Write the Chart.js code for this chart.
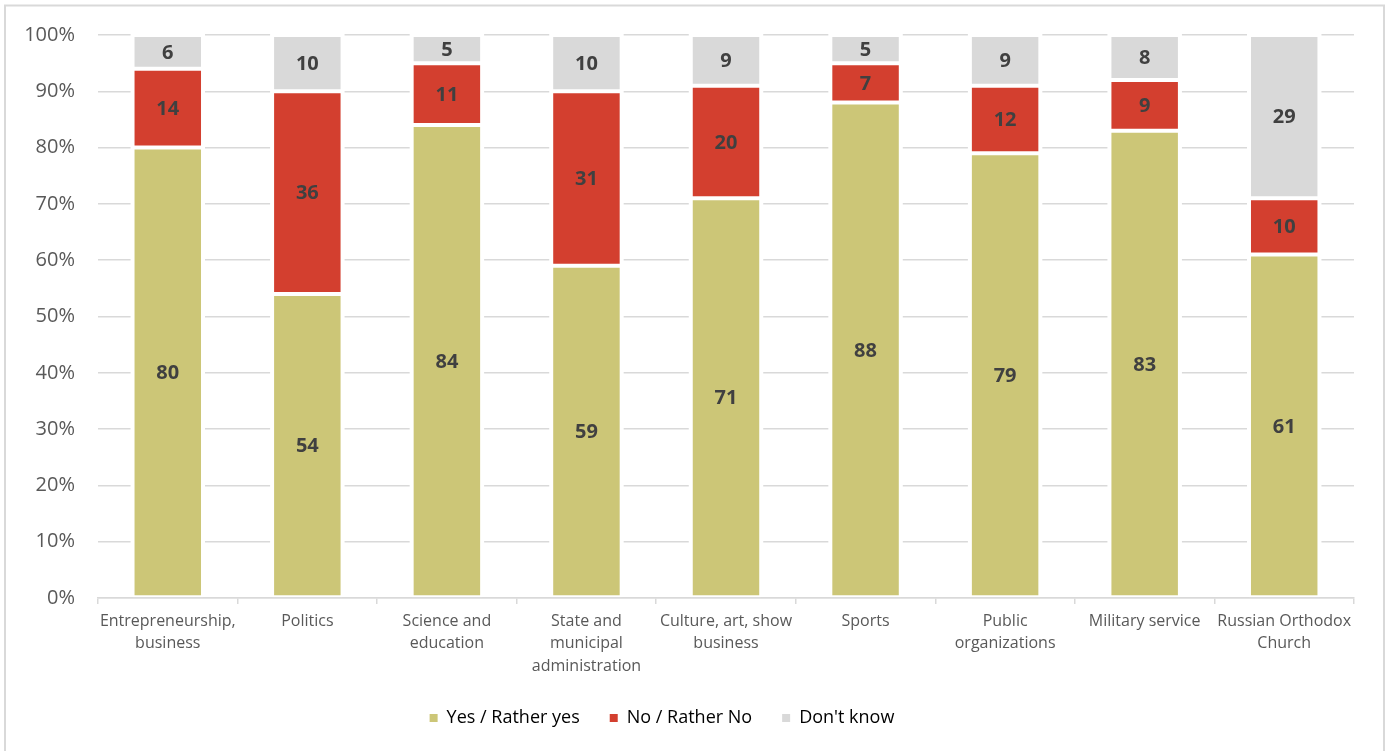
<!DOCTYPE html>
<html>
<head>
<meta charset="utf-8">
<script src="https://cdn.jsdelivr.net/npm/chart.js@4.4.1/dist/chart.umd.min.js"></script>
<style>
  html, body { margin: 0; padding: 0; background: #ffffff; }
  #wrap { position: relative; width: 1389px; height: 751px; }
  canvas { display: block; }
</style>
</head>
<body>
<div id="wrap"><canvas id="c" width="1389" height="751"></canvas></div>
<script>
const categories = [
  ["Entrepreneurship,", "business"],
  "Politics",
  ["Science and", "education"],
  ["State and", "municipal", "administration"],
  ["Culture, art, show", "business"],
  "Sports",
  ["Public", "organizations"],
  "Military service",
  ["Russian Orthodox", "Church"]
];
const yesValues = [80, 54, 84, 59, 71, 88, 79, 83, 61];
const noValues = [14, 36, 11, 31, 20, 7, 12, 9, 10];
const dontKnowValues = [6, 10, 5, 10, 9, 5, 9, 8, 29];
const seriesNames = ["Yes / Rather yes", "No / Rather No", "Don't know"];
const seriesColors = ["#CCC677", "#D33F2F", "#D9D9D9"];

const FONT = "'Open Sans', 'DejaVu Sans', sans-serif";
const TEXT = "#595959";

const frame = {
  id: 'frame',
  beforeDraw(chart) {
    const ctx = chart.ctx;
    ctx.save();
    ctx.fillStyle = '#ffffff';
    ctx.fillRect(0, 0, chart.width, chart.height);
    ctx.strokeStyle = '#D9D9D9';
    ctx.lineWidth = 2;
    ctx.beginPath();
    ctx.moveTo(5, chart.height + 2);
    ctx.lineTo(5, 5.5);
    ctx.lineTo(1384, 5.5);
    ctx.lineTo(1384, chart.height + 2);
    ctx.stroke();
    ctx.restore();
  }
};

// shift the legend a little left, as in the reference
const legendShift = {
  id: 'legendShift',
  afterLayout(chart) {
    const lg = chart.legend;
    if (lg) { lg.left -= 15; lg.right -= 15; }
  }
};

// white halo around each bar stack, so gridlines stop short of the bars
const halo = {
  id: 'halo',
  beforeDatasetsDraw(chart) {
    const ctx = chart.ctx;
    const metas = chart.getSortedVisibleDatasetMetas();
    if (!metas.length) return;
    ctx.save();
    ctx.fillStyle = '#ffffff';
    const n = metas[0].data.length;
    for (let i = 0; i < n; i++) {
      let top = Infinity, bottom = -Infinity, left = 0, right = 0;
      metas.forEach(m => {
        const el = m.data[i];
        const p = el.getProps(['x', 'y', 'base', 'width'], true);
        top = Math.min(top, p.y, p.base);
        bottom = Math.max(bottom, p.y, p.base);
        left = p.x - p.width / 2;
        right = p.x + p.width / 2;
      });
      ctx.fillRect(left - 2, top - 2, right - left + 4, bottom - top + 1);
    }
    ctx.restore();
  }
};

const valueLabels = {
  id: 'valueLabels',
  afterDatasetsDraw(chart) {
    const ctx = chart.ctx;
    ctx.save();
    ctx.font = "bold 20px " + FONT;
    ctx.fillStyle = '#404040';
    ctx.textAlign = 'center';
    ctx.textBaseline = 'middle';
    chart.getSortedVisibleDatasetMetas().forEach(m => {
      const ds = chart.data.datasets[m.index];
      m.data.forEach((el, i) => {
        const p = el.getProps(['x', 'y', 'base'], true);
        ctx.fillText(String(ds.data[i]), p.x, (p.y + p.base) / 2 + 1);
      });
    });
    ctx.restore();
  }
};

const datasets = [yesValues, noValues, dontKnowValues].map((vals, k) => ({
  label: seriesNames[k],
  data: vals,
  backgroundColor: seriesColors[k],
  borderColor: '#ffffff',
  borderWidth: 2,
  borderSkipped: false,
  barPercentage: 0.505,
  categoryPercentage: 1.0
}));

new Chart(document.getElementById('c'), {
  type: 'bar',
  data: { labels: categories, datasets },
  plugins: [frame, halo, valueLabels, legendShift],
  options: {
    responsive: false,
    animation: false,
    layout: { padding: { left: 0, right: 35, top: 35, bottom: 14 } },
    plugins: {
      tooltip: { enabled: false },
      legend: {
        position: 'bottom',
        labels: {
          font: { family: FONT, size: 18 },
          color: TEXT,
          boxWidth: 8,
          boxHeight: 8,
          padding: 30,
          generateLabels(chart) {
            return chart.data.datasets.map((d, i) => ({
              text: d.label,
              fillStyle: d.backgroundColor,
              strokeStyle: d.backgroundColor,
              lineWidth: 0,
              datasetIndex: i,
              hidden: false
            }));
          }
        }
      }
    },
    scales: {
      x: {
        stacked: true,
        offset: true,
        grid: {
          offset: true,
          drawOnChartArea: false,
          drawTicks: true,
          tickLength: 6,
          color: '#D9D9D9',
          lineWidth: 1.5
        },
        border: { display: true, color: '#D9D9D9', width: 1.5 },
        ticks: {
          font: { family: FONT, size: 16, lineHeight: 1.4 },
          color: TEXT,
          padding: 6,
          maxRotation: 0,
          autoSkip: false
        },
        afterFit(scale) { scale.height = 81; }
      },
      y: {
        stacked: true,
        min: 0,
        max: 100,
        grid: { color: '#D9D9D9', lineWidth: 1.5, drawTicks: false },
        border: { display: false },
        ticks: {
          stepSize: 10,
          font: { family: FONT, size: 20 },
          color: TEXT,
          padding: 23,
          callback: v => v + '%'
        },
        afterFit(scale) { scale.width = 98; }
      }
    }
  }
});
</script>
</body>
</html>
